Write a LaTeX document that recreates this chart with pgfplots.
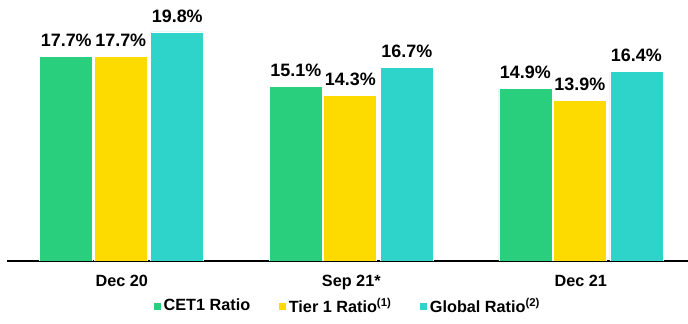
\documentclass[border=0pt]{standalone}
\usepackage{fontspec}
\setmainfont{Liberation Sans}
\usepackage{pgfplots}
\pgfplotsset{compat=1.18}
\definecolor{cgreen}{HTML}{2ACF7E}
\definecolor{cyellow}{HTML}{FDDA00}
\definecolor{ccyan}{HTML}{2ED3C9}
\begin{document}
\begin{tikzpicture}[x=1bp,y=1bp]
\begin{axis}[
  at={(7bp,63bp)}, anchor=south west,
  scale only axis, width=681bp, height=261bp,
  xmin=-0.5, xmax=2.467, ymin=0, ymax=22.56,
  axis x line=bottom, axis line style={line width=1.2pt, -},
  hide y axis,
  xtick={0,1,2}, xticklabels={Dec 20,Sep 21*,Dec 21},
  xtick style={draw=none},
  xticklabel style={font=\fontsize{16.3}{18}\selectfont\bfseries, yshift=-6bp},
  ybar, bar width=53bp,
  every axis plot/.append style={draw=white, line width=0.6pt},
  nodes near coords={\pgfmathprintnumber[fixed,fixed zerofill,precision=1]{\pgfplotspointmeta}\%},
  nodes near coords style={font=\fontsize{18}{20}\selectfont\bfseries, text=black, /pgf/number format/assume math mode=true, yshift=6bp},
  legend style={at={(0.5,-0.125)}, anchor=north, draw=none, legend columns=3,
    font=\fontsize{16.3}{18}\selectfont\bfseries,
    /tikz/every even column/.append style={column sep=26bp}},
  legend image code/.code={\fill[#1] (0bp,-4bp) rectangle (8bp,4bp);},
]
\addplot[fill=cgreen, bar shift=-55.5bp] coordinates {(0,17.7) (1,15.1) (2,14.9)};
\addplot[fill=cyellow, bar shift=-1bp] coordinates {(0,17.7) (1,14.3) (2,13.9)};
\addplot[fill=ccyan, bar shift=55.5bp] coordinates {(0,19.8) (1,16.7) (2,16.4)};
\legend{CET1 Ratio, Tier 1 Ratio\textsuperscript{(1)}, Global Ratio\textsuperscript{(2)}}
\end{axis}
\pgfresetboundingbox
\path (0,0) rectangle (688bp,324bp);
\end{tikzpicture}
\end{document}
